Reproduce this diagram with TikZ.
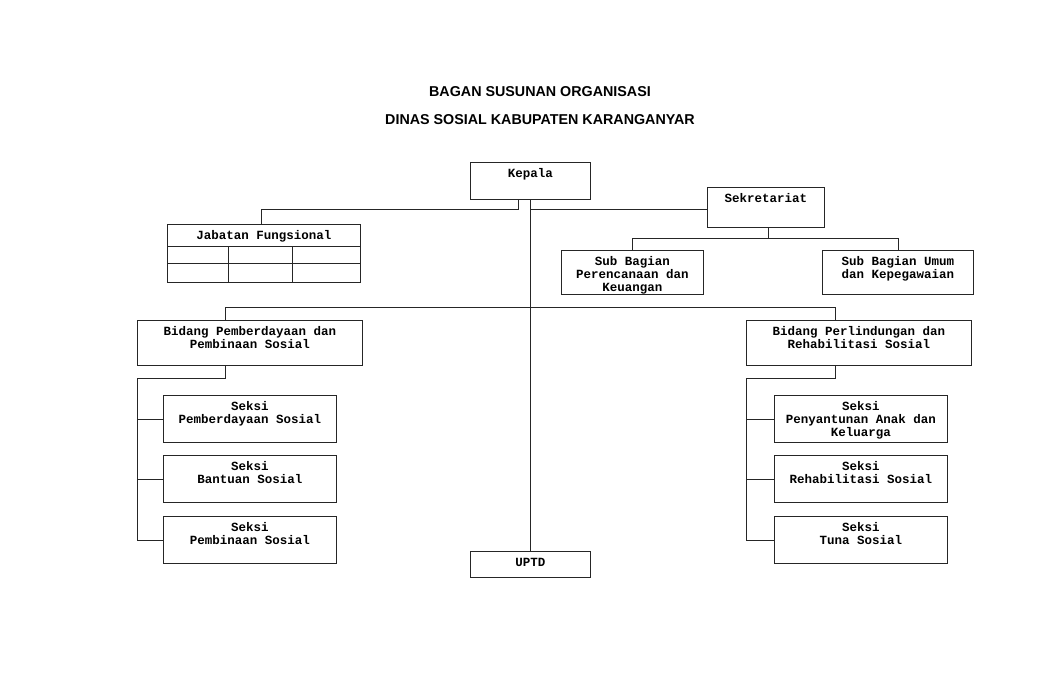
\documentclass[tikz,border=0pt]{standalone}
\usepackage{fontspec}
\setmainfont{Liberation Sans}
\newfontfamily\orgmono{Liberation Mono}
\usetikzlibrary{calc}
\tikzset{
  conn/.style={line width=0.8pt, draw=black!85},
  obox/.style={draw=black!85, line width=0.8pt, inner sep=0pt, anchor=north west,
    font=\orgmono\bfseries\fontsize{12.5}{13}\selectfont},
  ttl/.style={font=\bfseries\fontsize{14.3}{16}\selectfont, inner sep=0pt}
}
\newcommand\orgbox[6]{\node[obox] (#1) at (#2,#3) {\parbox[c][#5pt][t]{#4pt}{\centering\rule{0pt}{15pt}#6}};}
\begin{document}
\begin{tikzpicture}[x=1pt,y=-1pt]
\useasboundingbox[fill=white] (0,0) rectangle (1058,685);
% title
\node[ttl] (t1) at (540,92) {BAGAN SUSUNAN ORGANISASI};
\node[ttl] (t2) at (540,120) {DINAS SOSIAL KABUPATEN KARANGANYAR};
% boxes
\orgbox{kepala}{470}{162}{120}{37}{Kepala}
\orgbox{sek}{707}{187}{117}{40}{Sekretariat}
\orgbox{jab}{167}{224}{193}{58}{Jabatan Fungsional}
\orgbox{subper}{561}{250}{142}{44}{Sub Bagian\\Perencanaan dan\\Keuangan}
\orgbox{subumum}{822}{250}{151}{44}{Sub Bagian Umum\\dan Kepegawaian}
\orgbox{bidl}{137}{320}{225}{45}{Bidang Pemberdayaan dan\\Pembinaan Sosial}
\orgbox{bidr}{746}{320}{225}{45}{Bidang Perlindungan dan\\Rehabilitasi Sosial}
\orgbox{sl1}{163}{395}{173}{47}{Seksi\\Pemberdayaan Sosial}
\orgbox{sl2}{163}{455}{173}{47}{Seksi\\Bantuan Sosial}
\orgbox{sl3}{163}{516}{173}{47}{Seksi\\Pembinaan Sosial}
\orgbox{sr1}{774}{395}{173}{47}{Seksi\\Penyantunan Anak dan\\Keluarga}
\orgbox{sr2}{774}{455}{173}{47}{Seksi\\Rehabilitasi Sosial}
\orgbox{sr3}{774}{516}{173}{47}{Seksi\\Tuna Sosial}
\orgbox{uptd}{470}{551}{120}{26}{UPTD}
% table lines inside Jabatan Fungsional
\draw[conn] ($(jab.north west)+(0,22)$) -- ($(jab.north east)+(0,22)$);
\draw[conn] ($(jab.north west)+(0,39)$) -- ($(jab.north east)+(0,39)$);
\draw[conn] ($(jab.north west)+(61,22)$) -- ($(jab.south west)+(61,0)$);
\draw[conn] ($(jab.north west)+(125,22)$) -- ($(jab.south west)+(125,0)$);
% connectors
\draw[conn] (kepala.south) -- (uptd.north);
\draw[conn] ($(kepala.south)+(-12,0)$) -- ++(0,10) -| ($(jab.north)+(-3,0)$);
\draw[conn] ($(sek.west)+(0,2)$) -- ($(sek.west -| kepala.south)+(0,2)$);
\draw[conn] ($(sek.south)+(2,0)$) -- ++(0,11) coordinate (sj);
\draw[conn] (subper.north) |- (sj) -| (subumum.north);
\draw[conn] ($(bidl.north)+(-25,0)$) |- ($(bidr.north)+(-24,-13)$) -- ($(bidr.north)+(-24,0)$);
% left bidang branch
\draw[conn] ($(bidl.south)+(-25,0)$) |- ($(bidl.south west)+(0,13)$) |- (sl3.west);
\draw[conn] (sl1.west) -- (sl1.west -| bidl.west);
\draw[conn] (sl2.west) -- (sl2.west -| bidl.west);
% right bidang branch
\draw[conn] ($(bidr.south)+(-24,0)$) |- ($(bidr.south west)+(0,13)$) |- (sr3.west);
\draw[conn] (sr1.west) -- (sr1.west -| bidr.west);
\draw[conn] (sr2.west) -- (sr2.west -| bidr.west);
\end{tikzpicture}
\end{document}
